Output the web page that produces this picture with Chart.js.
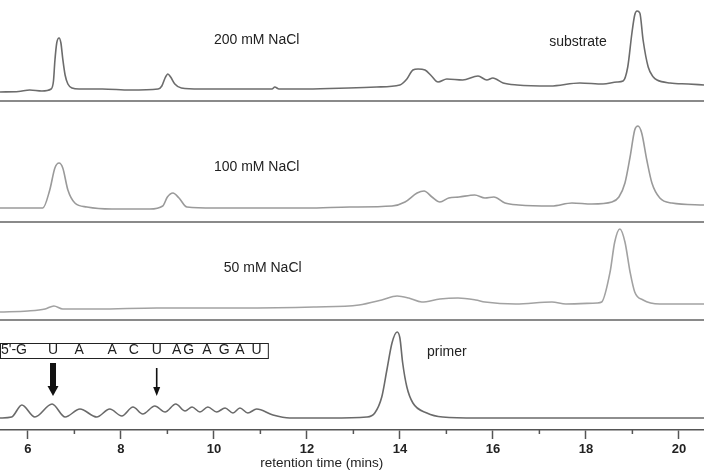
<!DOCTYPE html>
<html>
<head>
<meta charset="utf-8">
<script src="https://cdn.jsdelivr.net/npm/chart.js@4.4.0/dist/chart.umd.min.js"></script>
<style>
  html, body { margin: 0; padding: 0; background: #fff; }
  canvas { display: block; }
</style>
</head>
<body>
<canvas id="chrom" width="704" height="474"></canvas>
<script>
// retention time (mins) / signal
const time200 = [5.40, 5.80, 6.04, 6.30, 6.50, 6.55, 6.58, 6.62, 6.67, 6.71, 6.75, 6.80, 6.86, 6.95, 7.10, 7.60, 8.20, 8.80, 8.88, 8.95, 9.01, 9.07, 9.16, 9.30, 9.70, 10.50, 11.25, 11.31, 11.40, 12.00, 12.90, 13.50, 14.00, 14.15, 14.28, 14.39, 14.54, 14.68, 14.82, 15.01, 15.35, 15.68, 15.87, 16.00, 16.22, 16.52, 17.23, 17.87, 18.37, 18.67, 18.80, 18.90, 18.99, 19.05, 19.10, 19.16, 19.23, 19.34, 19.45, 19.53, 19.81, 20.20, 20.54];
const signal200 = [9, 9.5, 11, 10, 12, 20, 40, 58, 63, 58, 42, 26, 17, 13, 12, 12, 11, 12, 15, 23, 27, 24, 17, 13, 12, 12, 12, 14, 12, 12, 13, 14, 16, 22, 31, 32, 31, 25, 19, 22, 21, 25, 21, 23, 18, 16, 15, 18, 17, 19, 20, 34, 68, 86, 90, 88, 61, 34, 24, 21, 18, 17, 16];

const time100 = [5.40, 6.00, 6.32, 6.47, 6.58, 6.67, 6.75, 6.86, 7.01, 7.27, 7.80, 8.62, 8.90, 9.00, 9.12, 9.25, 9.42, 10.00, 11.00, 12.00, 12.92, 13.83, 14.11, 14.37, 14.52, 14.69, 14.86, 15.05, 15.27, 15.61, 15.83, 16.02, 16.26, 16.56, 17.27, 17.70, 18.13, 18.56, 18.71, 18.84, 18.95, 19.05, 19.12, 19.20, 19.31, 19.42, 19.59, 19.85, 20.54];
const signal100 = [14, 14, 14, 32, 54, 59, 54, 32, 19, 15, 13, 13, 16, 25, 29, 24, 15, 14, 14, 14, 15, 16, 20, 29, 31, 25, 20, 24, 25, 27, 24, 25, 19, 17, 16, 19, 18, 20, 25, 39, 65, 92, 96, 89, 62, 39, 24, 19, 17];

const time50 = [5.40, 6.00, 6.37, 6.56, 6.75, 7.50, 8.77, 10.50, 12.15, 13.12, 13.61, 13.94, 14.19, 14.47, 14.86, 15.25, 15.63, 15.83, 16.49, 17.27, 17.57, 18.24, 18.34, 18.52, 18.62, 18.73, 18.84, 18.95, 19.05, 19.23, 19.59, 20.54];
const signal50 = [8, 9, 11, 14, 11, 11, 12, 12, 13, 15, 20, 24, 22, 18, 21, 22, 20, 18, 16, 18, 16, 17, 18, 48, 78, 91, 78, 48, 28, 20, 16, 16];

const timePrimer = [5.40, 5.65, 5.87, 6.15, 6.52, 6.80, 7.12, 7.48, 7.76, 8.02, 8.26, 8.47, 8.73, 8.95, 9.18, 9.38, 9.53, 9.70, 9.87, 10.06, 10.24, 10.41, 10.56, 10.73, 10.92, 11.27, 11.63, 12.50, 13.29, 13.46, 13.61, 13.72, 13.83, 13.94, 14.00, 14.06, 14.15, 14.28, 14.58, 14.92, 15.66, 17.00, 18.50, 20.54];
const signalPrimer = [12, 13, 25, 13, 26, 13, 21, 13, 21, 14, 23, 16, 24, 18, 26, 19, 23, 18, 23, 18, 22, 17, 22, 17, 21, 15, 12, 12, 13, 17, 33, 60, 87, 98, 92, 67, 43, 27, 17, 13, 12, 12, 12, 12];

// x axis
const xMin = 5.40;
const xMax = 20.54;
const majorTicks = [6, 8, 10, 12, 14, 16, 18, 20];
const minorTicks = [7, 9, 11, 13, 15, 17, 19];
const xTitle = "retention time (mins)";

// sequence above the primer ladder
const seqHead = "5'-G";
const seqLetters = ["U", "A", "A", "C", "U", "A", "G", "A", "G", "A", "U"];
const seqTimes = [6.54, 7.10, 7.81, 8.28, 8.77, 9.20, 9.46, 9.85, 10.22, 10.56, 10.92];
const seqBoxEnd = 11.16;
const arrowTimes = [6.54, 8.77];

const panelLabels = [
  { axis: "y200", t: 10.92, v: 61, text: "200 mM NaCl" },
  { axis: "y200", t: 17.83, v: 59, text: "substrate" },
  { axis: "y100", t: 10.92, v: 55, text: "100 mM NaCl" },
  { axis: "y50", t: 11.05, v: 52, text: "50 mM NaCl" },
  { axis: "yPrimer", t: 15.01, v: 78, text: "primer" },
];

const FONT = '"Liberation Sans", Arial, sans-serif';

function pts(ts, vs) {
  return ts.map((t, i) => ({ x: t, y: vs[i] }));
}

function panelAxis(weight) {
  return {
    type: "linear",
    position: "left",
    stack: "panels",
    stackWeight: weight,
    min: 0,
    max: weight,
    grid: { display: false, drawTicks: false },
    ticks: { display: false },
    border: { display: false },
  };
}

function trace(data, axis, color) {
  return {
    data: data,
    yAxisID: axis,
    borderColor: color,
    borderWidth: 1.6,
    pointRadius: 0,
    cubicInterpolationMode: "monotone",
    fill: false,
  };
}

const decor = {
  id: "decor",
  afterDraw(chart) {
    const { ctx, scales } = chart;
    const x = scales.x;
    const left = chart.chartArea.left;
    const right = chart.chartArea.right;
    ctx.save();

    // panel separators
    ctx.strokeStyle = "#8a8a8a";
    ctx.lineWidth = 2;
    ["y200", "y100", "y50"].forEach((id) => {
      const yb = scales[id].bottom;
      ctx.beginPath();
      ctx.moveTo(left, yb);
      ctx.lineTo(right, yb);
      ctx.stroke();
    });

    // minor ticks
    ctx.strokeStyle = "#555";
    ctx.lineWidth = 1.5;
    minorTicks.forEach((v) => {
      const px = x.getPixelForValue(v);
      ctx.beginPath();
      ctx.moveTo(px, x.top);
      ctx.lineTo(px, x.top + 4);
      ctx.stroke();
    });

    // axis title
    ctx.fillStyle = "#222";
    ctx.font = "13.5px " + FONT;
    ctx.textAlign = "center";
    ctx.textBaseline = "middle";
    ctx.fillText(xTitle, x.getPixelForValue(12.32), x.top + 33);

    // panel labels
    ctx.font = "14px " + FONT;
    panelLabels.forEach((l) => {
      ctx.fillText(l.text, x.getPixelForValue(l.t), scales[l.axis].getPixelForValue(l.v));
    });

    // sequence box
    const yp = scales.yPrimer;
    const boxTop = yp.getPixelForValue(87);
    const boxBottom = yp.getPixelForValue(72);
    ctx.strokeStyle = "#222";
    ctx.lineWidth = 1;
    ctx.strokeRect(left + 0.5, boxTop + 0.5, x.getPixelForValue(seqBoxEnd) - left, boxBottom - boxTop);
    const ty = yp.getPixelForValue(79.5);
    ctx.textAlign = "left";
    ctx.fillText(seqHead, left + 1, ty);
    ctx.textAlign = "center";
    seqLetters.forEach((s, i) => ctx.fillText(s, x.getPixelForValue(seqTimes[i]), ty));

    // arrows
    ctx.fillStyle = "#111";
    const specs = [
      { top: 67, shaft: 6, head: 11, headH: 10 },
      { top: 62, shaft: 1.6, head: 7, headH: 9 },
    ];
    arrowTimes.forEach((t, i) => {
      const s = specs[i];
      const px = x.getPixelForValue(t);
      const y0 = yp.getPixelForValue(s.top);
      const tip = yp.getPixelForValue(34);
      ctx.fillRect(px - s.shaft / 2, y0, s.shaft, tip - s.headH - y0 + 1);
      ctx.beginPath();
      ctx.moveTo(px - s.head / 2, tip - s.headH);
      ctx.lineTo(px + s.head / 2, tip - s.headH);
      ctx.lineTo(px, tip);
      ctx.closePath();
      ctx.fill();
    });

    ctx.restore();
  },
};

new Chart(document.getElementById("chrom"), {
  type: "line",
  data: {
    datasets: [
      trace(pts(time200, signal200), "y200", "#6c6c6c"),
      trace(pts(time100, signal100), "y100", "#9a9a9a"),
      trace(pts(time50, signal50), "y50", "#a2a2a2"),
      trace(pts(timePrimer, signalPrimer), "yPrimer", "#6a6a6a"),
    ],
  },
  options: {
    responsive: false,
    animation: false,
    devicePixelRatio: 1,
    layout: { padding: 0 },
    plugins: { legend: { display: false }, tooltip: { enabled: false } },
    scales: {
      x: {
        type: "linear",
        min: xMin,
        max: xMax,
        afterFit: (s) => { s.height = 44; },
        afterBuildTicks: (s) => { s.ticks = majorTicks.map((v) => ({ value: v })); },
        border: { color: "#555", width: 1.5 },
        grid: { drawOnChartArea: false, drawTicks: true, tickLength: 9, tickColor: "#555", tickWidth: 1.5 },
        ticks: {
          autoSkip: false,
          maxRotation: 0,
          padding: 3,
          color: "#222",
          font: { family: FONT, size: 13, weight: "bold" },
        },
      },
      yPrimer: panelAxis(110),
      y50: panelAxis(98),
      y100: panelAxis(121),
      y200: panelAxis(101),
    },
  },
  plugins: [decor],
});
</script>
</body>
</html>
